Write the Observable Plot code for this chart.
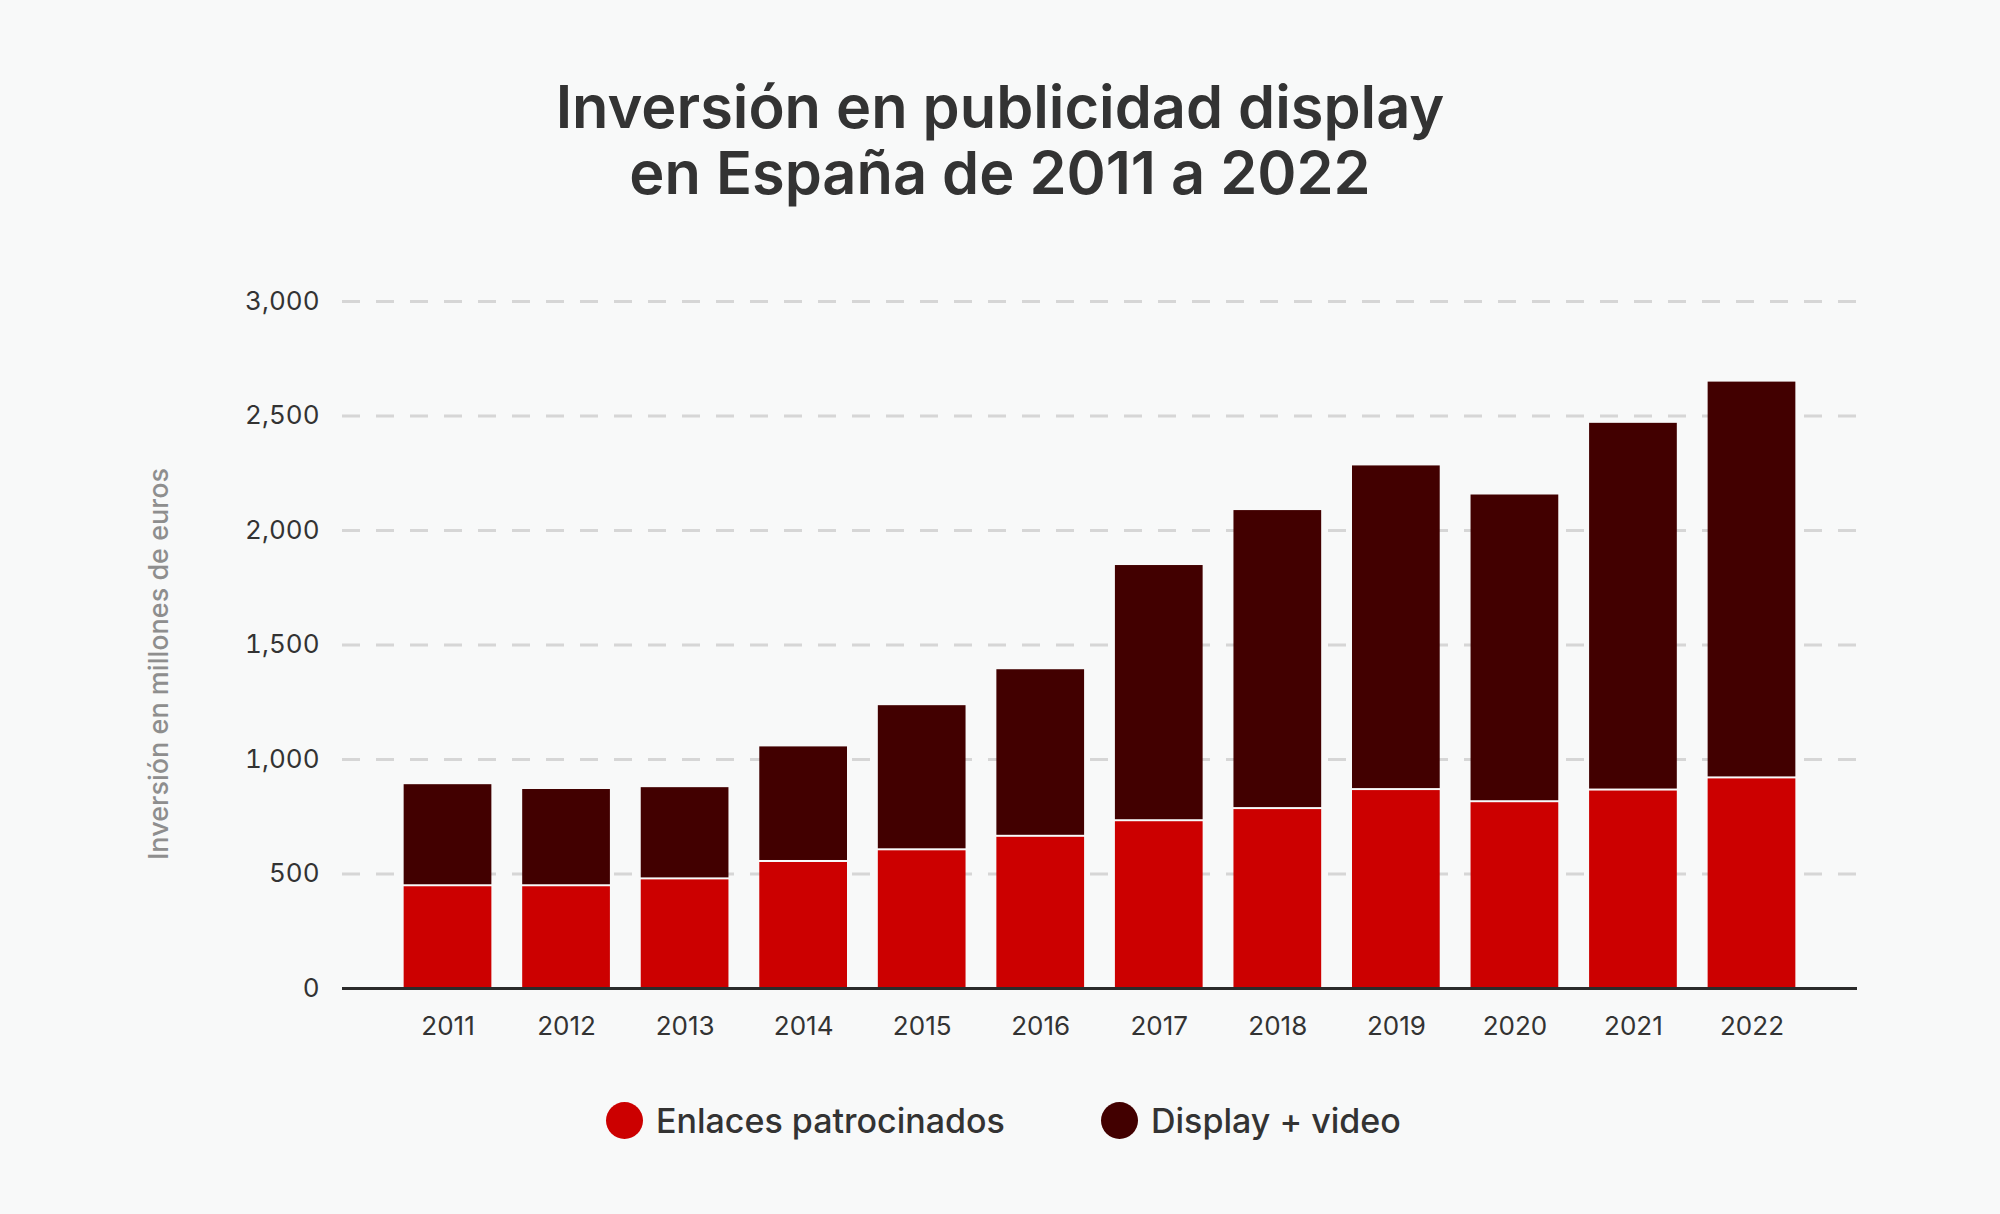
<!DOCTYPE html>
<html>
<head>
<meta charset="utf-8">
<script src="https://cdn.jsdelivr.net/npm/d3@7"></script>
<script src="https://cdn.jsdelivr.net/npm/@observablehq/plot@0.6"></script>
<style>
  html, body { margin: 0; padding: 0; background: #f8f9f9; }
  body { width: 2000px; height: 1214px; position: relative; overflow: hidden; font-family: Inter, "Noto Sans", sans-serif; }
  #title { position: absolute; left: 0; top: 73px; width: 2000px; text-align: center; font-size: 59.5px; font-weight: 600; line-height: 66px; color: #333; }
  #chart { position: absolute; left: 0; top: 250px; }
  #legend { position: absolute; top: 1100px; left: 0; width: 2000px; height: 40px; }
  .item { position: absolute; top: 0; display: flex; align-items: center; height: 40px; font-size: 34px; font-weight: 500; color: #333; }
  .dot { width: 37px; height: 37px; border-radius: 50%; margin-right: 13px; }
</style>
</head>
<body>
<div id="title">Inversión en publicidad display<br>en España de 2011 a 2022</div>
<div id="chart"></div>
<div id="legend"></div>
<script>
const years = ["2011","2012","2013","2014","2015","2016","2017","2018","2019","2020","2021","2022"];
const enlaces = [453, 453, 483, 559, 610, 669, 737, 790, 873, 820, 871, 924];
const display = [437, 416, 394, 496, 625, 723, 1110, 1297, 1409, 1335, 1597, 1724];
const seriesNames = ["Enlaces patrocinados", "Display + video"];
const seriesColors = ["#cc0000", "#420000"];
const yTicks = [0, 500, 1000, 1500, 2000, 2500, 3000];
const yLabel = "Inversión en millones de euros";

const rows = years.map((y, i) => ({year: y, enlaces: enlaces[i], display: display[i], total: enlaces[i] + display[i]}));

const chart = Plot.plot({
  width: 2000,
  height: 808,
  marginTop: 51,
  marginBottom: 70,
  marginLeft: 342,
  marginRight: 143,
  style: {background: "transparent", fontFamily: "Inter, 'Noto Sans', sans-serif", fontSize: "26px", color: "#333"},
  x: {domain: years, paddingInner: 0.26, paddingOuter: 0.52, round: false, label: null},
  y: {domain: [0, 3000], label: null},
  marks: [
    Plot.gridY(yTicks.filter(d => d > 0), {stroke: "#d6d6d6", strokeOpacity: 1, strokeWidth: 3, strokeDasharray: "18,16"}),
    Plot.barY(rows, {x: "year", y1: 0, y2: "enlaces", fill: seriesColors[0], insetTop: 2}),
    Plot.barY(rows, {x: "year", y1: "enlaces", y2: "total", fill: seriesColors[1]}),
    Plot.ruleY([0], {stroke: "#2b2b2b", strokeWidth: 3}),
    Plot.axisY({ticks: yTicks, tickSize: 0, tickPadding: 23, tickFormat: d3.format(","), label: null, fill: "#333"}),
    Plot.axisX({tickSize: 0, tickPadding: 28, label: null, fill: "#333"}),
    Plot.text([yLabel], {frameAnchor: "left", textAnchor: "middle", dx: -183, dy: 19, rotate: -90, fontSize: 27, fontWeight: 500, fill: "#8e8e8e"})
  ]
});
document.getElementById("chart").appendChild(chart);

const legend = document.getElementById("legend");
const lefts = [606, 1101];
seriesNames.forEach((name, i) => {
  const item = document.createElement("div");
  item.className = "item";
  item.style.left = lefts[i] + "px";
  const dot = document.createElement("span");
  dot.className = "dot";
  dot.style.background = seriesColors[i];
  item.appendChild(dot);
  item.appendChild(document.createTextNode(name));
  legend.appendChild(item);
});
</script>
</body>
</html>
